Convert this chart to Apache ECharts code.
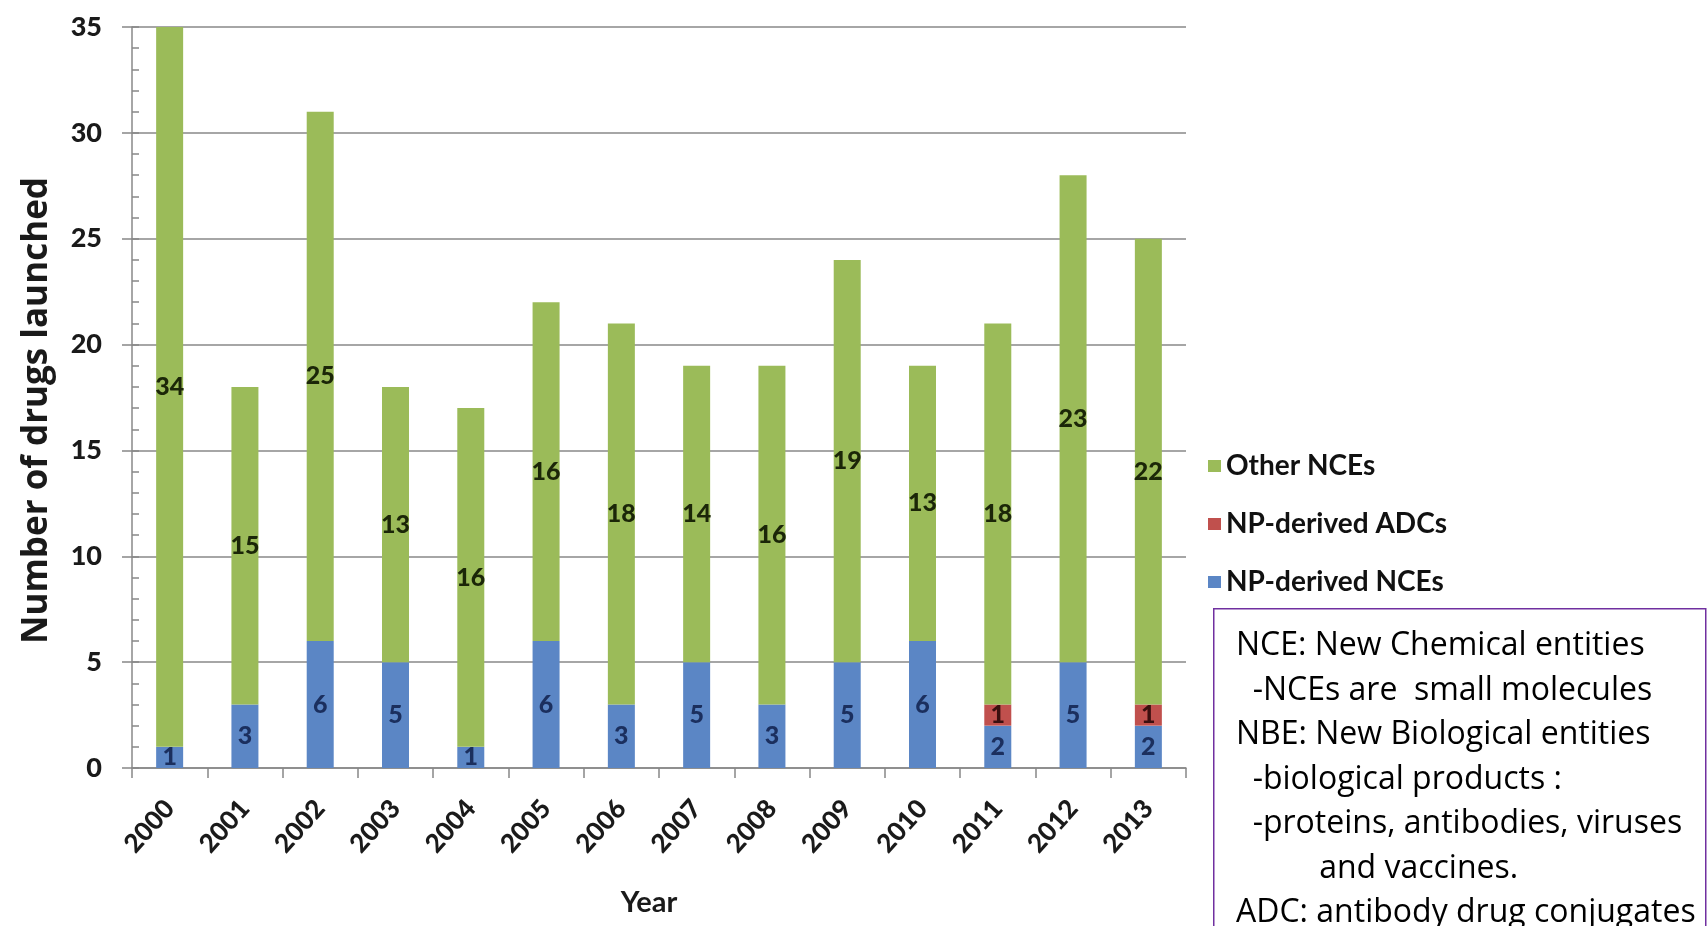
<!DOCTYPE html>
<html><head><meta charset="utf-8">
<script src="https://cdn.jsdelivr.net/npm/echarts@6/dist/echarts.min.js"></script>
<style>html,body{margin:0;padding:0;background:#fff}#c{width:1707px;height:926px}</style>
</head><body><div id="c"></div>
<script>
const years = ['2000','2001','2002','2003','2004','2005','2006','2007','2008','2009','2010','2011','2012','2013'];
const npDerivedNCEs = [1,3,6,5,1,6,3,5,3,5,6,2,5,2];
const npDerivedADCs = [0,0,0,0,0,0,0,0,0,0,0,1,0,1];
const otherNCEs = [34,15,25,13,16,16,18,14,16,19,13,18,23,22];
const yMin = 0, yMax = 35, yStep = 5;
const noteLines = [
  'NCE: New Chemical entities',
  '  -NCEs are  small molecules',
  'NBE: New Biological entities',
  '  -biological products :',
  '  -proteins, antibodies, viruses',
  '          and vaccines.',
  'ADC: antibody drug conjugates'
];

const AX = '#888888';
const labelFont = {fontFamily:'Lato, sans-serif', fontWeight:900, fontSize:25};
const nz = arr => arr.map(v => v === 0 ? null : v);

function seriesOf(name, data, color, labelColor){
  return {
    name, type:'bar', stack:'total', barWidth:27, data:nz(data),
    itemStyle:{color},
    label:Object.assign({show:true, position:'inside', color:labelColor,
      formatter:p => (p.value ? String(p.value) : '')}, labelFont),
    emphasis:{disabled:true}
  };
}

const noteEls = [{
  type:'rect', left:1213, top:608,
  shape:{width:492, height:340},
  style:{fill:'#fff', stroke:'#7030A0', lineWidth:1.5}
}];
noteLines.forEach((t,i) => {
  noteEls.push({type:'text', x:1236, y:646 + i*44.5,
    style:{text:t, fill:'#000', font:'32px "Open Sans", Lato, sans-serif', verticalAlign:'middle', align:'left'}});
});

const chart = echarts.init(document.getElementById('c'));
chart.setOption({
  animation:false,
  backgroundColor:'#fff',
  textStyle:{fontFamily:'Lato, "Open Sans", sans-serif'},
  grid:{left:132, right:521, top:27, bottom:158, containLabel:false},
  legend:{
    orient:'vertical', left:1203, top:447, itemWidth:13, itemHeight:12, itemGap:30,
    icon:'rect',
    data:['Other NCEs','NP-derived ADCs','NP-derived NCEs'],
    textStyle:{fontSize:28, fontWeight:'bold', color:'#111', lineHeight:28, fontFamily:'Lato, sans-serif'}
  },
  xAxis:{
    type:'category', data:years,
    axisLine:{lineStyle:{color:AX, width:1.5}},
    axisTick:{show:true, length:10, lineStyle:{color:AX, width:1.5}},
    axisLabel:{rotate:48, interval:0, fontSize:26, fontWeight:900, color:'#1a1a1a', margin:36},
    name:'Year', nameLocation:'middle', nameGap:120,
    nameTextStyle:{fontSize:29, fontWeight:'bold', color:'#1a1a1a', padding:[0,20,0,0]}
  },
  yAxis:[{
    type:'value', min:yMin, max:yMax, interval:yStep,
    axisLine:{show:true, lineStyle:{color:AX, width:1.5}},
    axisTick:{show:true, length:10, lineStyle:{color:AX, width:1.5}},
    axisLabel:{fontSize:27, fontWeight:900, color:'#1a1a1a', margin:30},
    splitLine:{lineStyle:{color:AX, width:1.5}},
    name:'Number of drugs launched', nameLocation:'middle', nameGap:77, nameRotate:90,
    nameTextStyle:{fontSize:35, fontWeight:'bold', color:'#1a1a1a', fontFamily:'"Open Sans", Lato, sans-serif', padding:[0,26,0,0]}
  },{
    type:'value', min:yMin, max:yMax, interval:1, position:'left',
    axisLine:{show:false},
    axisTick:{show:true, inside:true, length:7, lineStyle:{color:AX, width:1.5}},
    axisLabel:{show:false}, splitLine:{show:false}
  }],
  series:[
    seriesOf('NP-derived NCEs', npDerivedNCEs, '#5B86C5', '#1B2F5E'),
    seriesOf('NP-derived ADCs', npDerivedADCs, '#C0504D', '#3a0f0f'),
    seriesOf('Other NCEs', otherNCEs, '#9BBB59', '#1b2608')
  ],
  graphic:noteEls
});
</script></body></html>
